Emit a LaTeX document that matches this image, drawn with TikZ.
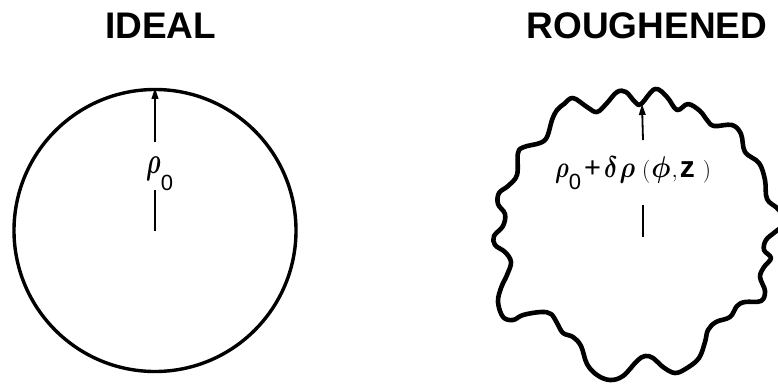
\RequirePackage{fix-cm}
\documentclass[tikz,border=0pt]{standalone}
\usepackage{fontspec}
\setsansfont{Liberation Sans}
\usepackage{tikz}
\usetikzlibrary{arrows.meta}

\newcommand{\subnull}[1]{\raisebox{-#1}{\fontsize{22}{22}\selectfont\sffamily 0}}
\newcommand{\paren}[1]{{\fontsize{23}{23}\selectfont\unboldmath$#1$}}

\begin{document}
\begin{tikzpicture}[x=1pt, y=-1pt,
  heading/.style={font=\fontsize{37}{40}\selectfont\sffamily\bfseries, anchor=base, inner sep=0pt},
  ring/.style={circle, draw, line width=3.4pt, minimum size=282pt, inner sep=0pt},
  wavy/.style={line width=4.6pt, line join=round},
  arr/.style={line width=1.8pt, -{Triangle[length=11pt,width=6.5pt]}},
  bar/.style={line width=1.8pt},
  lbl/.style={font=\fontsize{30}{32}\selectfont\boldmath, inner sep=0pt, anchor=base west}
]
\useasboundingbox (0,0) rectangle (778,383);
\clip (0,0) rectangle (778,383);

\node[heading] (idealtitle) at (160.5,38.5) {IDEAL};
\node[heading] (roughtitle) at (647,38.5) {ROUGHENED};

% ideal cylinder
\node[ring] (ideal) at (155,230.5) {};
\node[lbl] (rho0) at (146,173) {\scalebox{0.7}[1.1]{\fontsize{34}{34}\selectfont$\rho$}\subnull{17pt}};
\coordinate (i0) at (155,142);
\coordinate (i1) at (155,190);
\draw[arr] (i0) -- (ideal.north);
\draw[bar] (i1) -- (ideal.center);

% roughened cylinder
\draw[wavy] plot[smooth cycle, tension=0.6] coordinates {
  (641,104) (655,89) (667,97) (677,110) (688,104) (700,111) (707,120)
  (714,126) (732,125) (741,134) (745,152) (759,163) (765,180) (767,199)
  (778,209) (786,222) (775,232) (766,240) (764,250) (771,258) (764,267)
  (760,277) (765,291) (761,301) (745,302) (737,306) (730,317) (716,322)
  (708,330) (705,342) (699,358) (687,368) (675,373) (663,367) (653,358)
  (645,356) (637,361) (623,376) (610,380) (597,375) (587,364) (581,346)
  (573,337) (563,333) (557,323) (551,314) (541,312) (523,315) (513,320)
  (503,317) (498,302) (501,288) (507,275) (511,262) (505,252) (495,245)
  (494,236) (503,226) (505,214) (498,204) (499,193) (508,186) (517,175)
  (518,153) (524,147) (540,143) (547,137) (552,120) (557,110) (564,104)
  (573,98) (587,107) (597,112) (607,103) (617,92) (626,92) (635,102)};
\node[lbl] (rhorough) at (555,177) {\scalebox{0.75}[1]{$\rho$}\subnull{12pt}\hspace{3pt}{\fontsize{29}{29}\selectfont\sffamily+}\hspace{3pt}\scalebox{0.8}[1]{$\delta$}\hspace{2pt}\scalebox{0.85}[1]{$\rho$}\hspace{7pt}\paren{(}\hspace{1pt}\scalebox{0.9}[1]{$\phi$}\hspace{1pt}\paren{,}\hspace{2pt}{\sffamily\bfseries z}\hspace{8pt}\paren{)}};
\coordinate (rtop) at (642,104);
\coordinate (rmid) at (643,237);
\coordinate (r0) at (643,140);
\coordinate (r1) at (643,205);
\draw[arr] (r0) -- (rtop);
\draw[bar] (r1) -- (rmid);
\end{tikzpicture}
\end{document}
